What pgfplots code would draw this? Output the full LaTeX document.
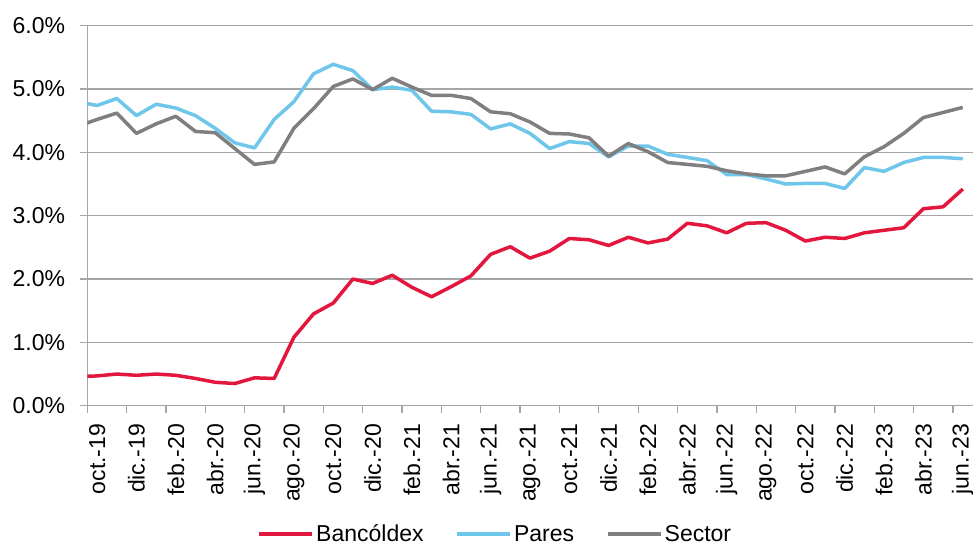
\documentclass[border=0pt]{standalone}
\usepackage{pgfplots}
\pgfplotsset{compat=1.18}
\usepackage{fontspec}
\setmainfont{Liberation Sans}
\definecolor{cRed}{HTML}{E3173E}
\definecolor{cBlue}{HTML}{6EC6EA}
\definecolor{cGray}{HTML}{7F7F7F}
\definecolor{cGrid}{HTML}{A6A6A6}
\begin{document}
\begin{tikzpicture}
\path[use as bounding box] (-87.3pt,-140.3pt) rectangle (885.7pt,405.7pt);
\begin{axis}[
  at={(0pt,0pt)}, anchor=south west,
  scale only axis, width=885.3pt, height=380pt,
  xmin=-0.5, xmax=44.5, ymin=0, ymax=6,
  axis x line*=bottom, axis y line*=left,
  axis line style={draw=cGrid, line width=1.3pt, -},
  ytick={0,1,...,6},
  ymajorgrids, grid style={draw=cGrid, line width=1.3pt},
  xtick={0,2,...,44},
  xticklabels={oct.-19,dic.-19,feb.-20,abr.-20,jun.-20,ago.-20,oct.-20,dic.-20,feb.-21,abr.-21,jun.-21,ago.-21,oct.-21,dic.-21,feb.-22,abr.-22,jun.-22,ago.-22,oct.-22,dic.-22,feb.-23,abr.-23,jun.-23},
  minor xtick={-0.5,1.5,...,43.5},
  tick align=outside,
  major tick length=7pt, minor tick length=7pt,
  every major x tick/.append style={draw=none},
  tick style={draw=cGrid, line width=1.3pt},
  /pgf/number format/assume math mode=true,
  tick label style={font=\fontsize{23}{27}\selectfont, text=black},
  yticklabel={\pgfmathprintnumber[fixed,fixed zerofill,precision=1]{\tick}\%},
  yticklabel style={anchor=east, inner sep=0pt},
  yticklabel shift=15pt,
  xticklabel style={rotate=90, anchor=east, inner sep=0pt},
  xticklabel shift=11pt,
  legend columns=3,
  legend style={at={(0.461,-0.338)}, anchor=center, draw=none, fill=none,
    font=\fontsize{23}{27}\selectfont,
    /tikz/every even column/.append style={column sep=30pt},
    nodes={inner sep=2pt}},
  legend image code/.code={\draw[#1, line width=3.5pt] (0pt,0pt) -- (53pt,0pt);},
  every axis plot/.append style={line width=3.5pt, line join=round, mark=none},
]
\addplot[cRed] coordinates {
(-1,0.46)(0,0.47)(1,0.50)(2,0.48)(3,0.50)(4,0.48)(5,0.43)(6,0.37)(7,0.35)(8,0.44)(9,0.43)
(10,1.08)(11,1.45)(12,1.62)(13,2.00)(14,1.93)(15,2.06)(16,1.87)(17,1.72)(18,1.88)(19,2.05)
(20,2.39)(21,2.51)(22,2.33)(23,2.44)(24,2.64)(25,2.62)(26,2.53)(27,2.66)(28,2.57)(29,2.63)
(30,2.88)(31,2.84)(32,2.73)(33,2.88)(34,2.89)(35,2.77)(36,2.60)(37,2.66)(38,2.64)(39,2.73)
(40,2.77)(41,2.81)(42,3.11)(43,3.14)(44,3.42)};
\addlegendentry{Bancóldex}
\addplot[cBlue] coordinates {
(-1,4.80)(0,4.74)(1,4.85)(2,4.58)(3,4.76)(4,4.70)(5,4.58)(6,4.38)(7,4.15)(8,4.07)(9,4.52)
(10,4.80)(11,5.24)(12,5.39)(13,5.29)(14,4.99)(15,5.03)(16,4.98)(17,4.65)(18,4.64)(19,4.60)
(20,4.37)(21,4.45)(22,4.30)(23,4.06)(24,4.17)(25,4.14)(26,3.93)(27,4.10)(28,4.10)(29,3.97)
(30,3.92)(31,3.87)(32,3.65)(33,3.65)(34,3.58)(35,3.50)(36,3.51)(37,3.51)(38,3.43)(39,3.76)
(40,3.70)(41,3.84)(42,3.92)(43,3.92)(44,3.90)};
\addlegendentry{Pares}
\addplot[cGray] coordinates {
(-1,4.41)(0,4.52)(1,4.62)(2,4.30)(3,4.45)(4,4.57)(5,4.33)(6,4.31)(7,4.06)(8,3.81)(9,3.85)
(10,4.38)(11,4.69)(12,5.04)(13,5.16)(14,4.99)(15,5.17)(16,5.03)(17,4.90)(18,4.90)(19,4.85)
(20,4.64)(21,4.61)(22,4.48)(23,4.30)(24,4.29)(25,4.23)(26,3.94)(27,4.14)(28,4.01)(29,3.84)
(30,3.81)(31,3.78)(32,3.71)(33,3.66)(34,3.63)(35,3.63)(36,3.70)(37,3.77)(38,3.66)(39,3.93)
(40,4.09)(41,4.30)(42,4.55)(43,4.63)(44,4.71)};
\addlegendentry{Sector}
\end{axis}
\end{tikzpicture}
\end{document}
